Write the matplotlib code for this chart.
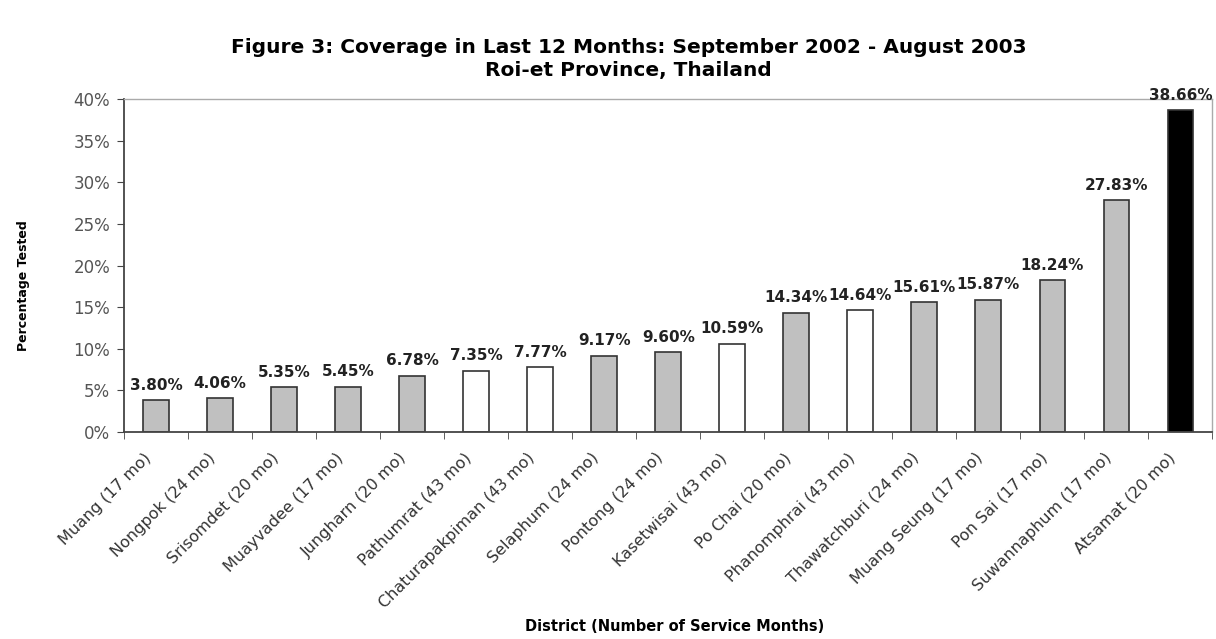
import matplotlib
matplotlib.use("Agg")
import matplotlib.pyplot as plt
import matplotlib.transforms as mtransforms
import numpy as np

plt.rcParams["font.family"] = ["DejaVu Sans"]

# District names and coverage values
districts = ["Muang (17 mo)", "Nongpok (24 mo)", "Srisomdet (20 mo)", "Muayvadee (17 mo)",
             "Jungharn (20 mo)", "Pathumrat (43 mo)", "Chaturapakpiman (43 mo)",
             "Selaphum (24 mo)", "Pontong (24 mo)", "Kasetwisai (43 mo)", "Po Chai (20 mo)",
             "Phanomphrai (43 mo)", "Thawatchburi (24 mo)", "Muang Seung (17 mo)",
             "Pon Sai (17 mo)", "Suwannaphum (17 mo)", "Atsamat (20 mo)"]
coverage = [3.80, 4.06, 5.35, 5.45, 6.78, 7.35, 7.77, 9.17, 9.60, 10.59,
            14.34, 14.64, 15.61, 15.87, 18.24, 27.83, 38.66]
bar_colors = ["#c0c0c0", "#c0c0c0", "#c0c0c0", "#c0c0c0", "#c0c0c0", "white", "white",
              "#c0c0c0", "#c0c0c0", "white", "#c0c0c0", "white", "#c0c0c0", "#c0c0c0",
              "#c0c0c0", "#c0c0c0", "black"]

fig = plt.figure(figsize=(12.16, 6.39), dpi=100)
ax = fig.add_axes([0.102, 0.324, 0.895, 0.521])

x = np.arange(len(districts))
ax.bar(x, coverage, width=0.4, color=bar_colors, edgecolor="#333333", linewidth=1.2)

# value labels over each bar
for xi, v in zip(x, coverage):
    ax.text(xi, v + 0.9, "%.2f%%" % v, ha="center", va="bottom",
            fontsize=11, fontweight="bold", color="#222222")

ax.set_xlim(-0.5, len(districts) - 0.5)
ax.set_ylim(0, 40)
ax.set_yticks(range(0, 41, 5))
ax.set_yticklabels(["%d%%" % t for t in range(0, 41, 5)], fontsize=12, color="#555555")

# Excel-style ticks between the categories
ax.set_xticks(x)
ax.set_xticklabels(districts, rotation=45, ha="right", rotation_mode="anchor",
                   fontsize=11.5, color="#333333")
ax.tick_params(axis="x", length=0, pad=8)
ax.set_xticks(np.arange(-0.5, len(districts), 1), minor=True)
ax.tick_params(axis="x", which="minor", length=5, color="#444444")
ax.tick_params(axis="y", length=5, pad=5, color="#444444")

# nudge the slanted labels a little left and down
offset = mtransforms.ScaledTranslation(-0.13, -0.07, fig.dpi_scale_trans)
for lbl in ax.get_xticklabels():
    lbl.set_transform(lbl.get_transform() + offset)

for side in ["left", "bottom"]:
    ax.spines[side].set_color("#444444")
    ax.spines[side].set_linewidth(1.3)
for side in ["top", "right"]:
    ax.spines[side].set_color("#aaaaaa")
    ax.spines[side].set_linewidth(1.0)

ax.set_ylabel("Percentage Tested", fontsize=9, fontweight="bold")
ax.yaxis.set_label_coords(-0.086, 0.44)
fig.text(0.555, 0.013, "District (Number of Service Months)", ha="center",
         fontsize=10.5, fontweight="bold")

fig.text(0.517, 0.908, "Figure 3: Coverage in Last 12 Months: September 2002 - August 2003\nRoi-et Province, Thailand",
         ha="center", va="center", fontsize=14.5, fontweight="bold", linespacing=1.3)

fig.savefig("out.png", dpi=100)
